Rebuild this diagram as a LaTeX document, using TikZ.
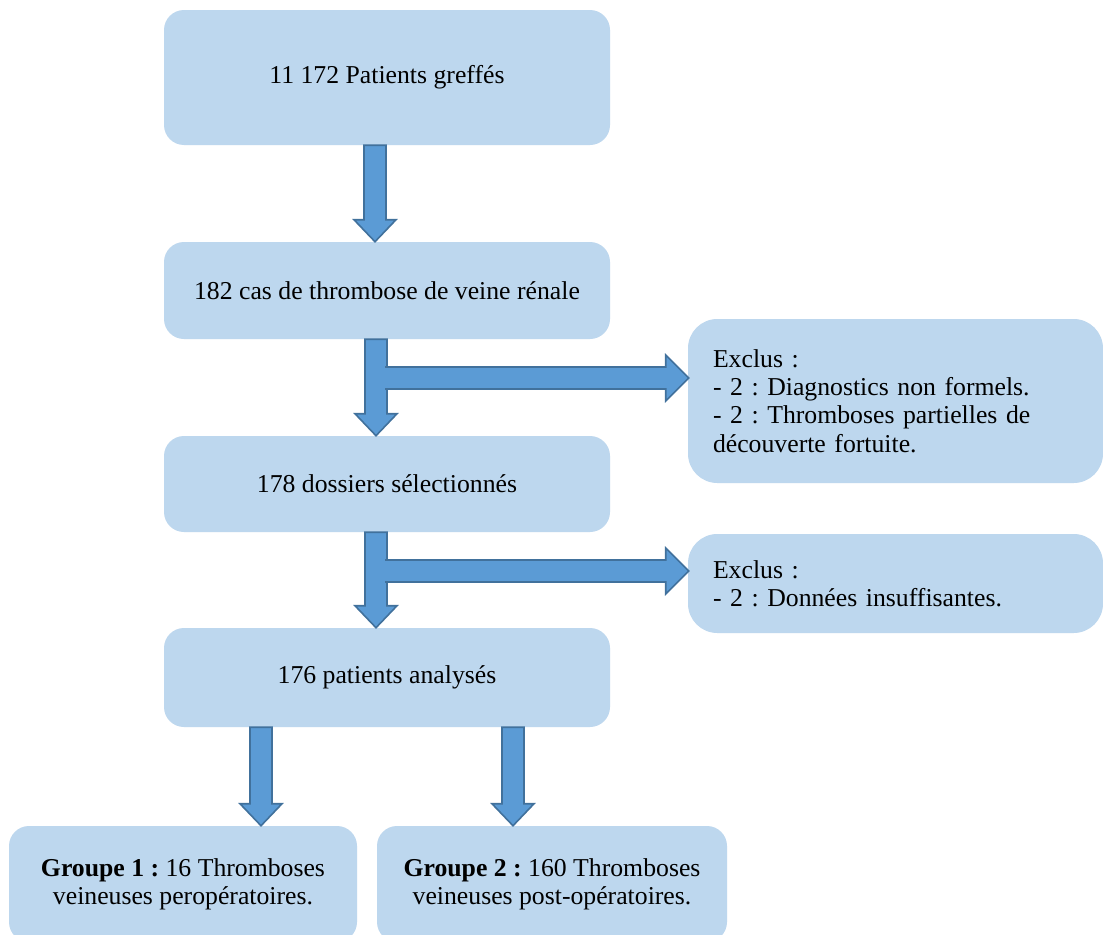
\documentclass[tikz,border=0pt]{standalone}
\usepackage{fontspec}
\setmainfont{Liberation Serif}
\usetikzlibrary{calc}
\definecolor{boxblue}{HTML}{BDD7EE}
\definecolor{arrfill}{HTML}{5B9BD5}
\definecolor{arrline}{HTML}{41719C}
\frenchspacing
\newcommand\vArr[2]{%
  \draw[arrstyle] ($(#1)+(-11,0)$) -- ($(#2)+(-11,-22)$) -- ($(#2)+(-21,-22)$) -- (#2)
    -- ($(#2)+(21,-22)$) -- ($(#2)+(11,-22)$) -- ($(#1)+(11,0)$) -- cycle;}
\newcommand\hArr[2]{%
  \fill[arrfill] ($(#1)+(0,-11)$) -- ($(#2)+(-23,-11)$) -- ($(#2)+(-23,-23)$) -- (#2)
    -- ($(#2)+(-23,23)$) -- ($(#2)+(-23,11)$) -- ($(#1)+(0,11)$) -- cycle;
  \draw[arrline, line width=1.2pt, line join=miter] ($(#1)+(0,-11)$) -- ($(#2)+(-23,-11)$) -- ($(#2)+(-23,-23)$) -- (#2)
    -- ($(#2)+(-23,23)$) -- ($(#2)+(-23,11)$) -- ($(#1)+(0,11)$);}
\begin{document}
\frenchspacing
\begin{tikzpicture}[x=0.75pt,y=-0.75pt,
  txt/.style={font=\fontsize{19.3}{21.3}\selectfont\frenchspacing},
  mainbox/.style={txt, fill=boxblue, rounded corners=15pt, minimum width=334.5pt, align=center, inner sep=0pt},
  exbox/.style={txt, fill=boxblue, rounded corners=22pt, minimum width=311.25pt, text width=273.75pt, inner xsep=18.75pt, align=left},
  grpbox/.style={txt, fill=boxblue, rounded corners=15pt, minimum height=87pt, align=center, inner sep=0pt},
  arrstyle/.style={fill=arrfill, draw=arrline, line width=1.2pt, line join=miter}]
\clip (0,0) rectangle (1103,935);
\fill[white] (0,0) rectangle (1103,935);
\node[mainbox, minimum height=101.25pt] (b1) at (387,77.5) {11 172 Patients greffés};
\node[mainbox, minimum height=72.75pt] (b2) at (387,290.5) {182 cas de thrombose de veine rénale};
\node[mainbox, minimum height=72pt] (b3) at (387,484) {178 dossiers sélectionnés};
\node[mainbox, minimum height=74.25pt] (b4) at (387,677.5) {176 patients analysés};
\node[exbox, minimum height=123pt] (e1) at (895.5,401) {Exclus :\\- 2 : Diagnostics non formels.\\- 2 : Thromboses partielles de\\découverte fortuite.};
\node[exbox, minimum height=74.25pt] (e2) at (895.5,583.5) {Exclus :\\- 2 : Données insuffisantes.};
\node[grpbox, minimum width=261pt] (g1) at (183,884) {\textbf{Groupe 1 :} 16 Thromboses\\veineuses peropératoires.};
\node[grpbox, minimum width=262.5pt] (g2) at (552,884) {\textbf{Groupe 2 :} 160 Thromboses\\veineuses post-opératoires.};
% arrow axes
\coordinate (x1) at (375,0);
\coordinate (x2) at (376,0);
\coordinate (xg1) at (261,0);
\coordinate (xg2) at (513,0);
\coordinate (a1s) at (x1 |- b1.south);
\coordinate (a1e) at (x1 |- b2.north);
\coordinate (a2s) at (x2 |- b2.south);
\coordinate (a2e) at (x2 |- b3.north);
\coordinate (a3s) at (x2 |- b3.south);
\coordinate (a3e) at (x2 |- b4.north);
\coordinate (ag1s) at (xg1 |- b4.south);
\coordinate (ag1e) at (xg1 |- g1.north);
\coordinate (ag2s) at (xg2 |- b4.south);
\coordinate (ag2e) at (xg2 |- g2.north);
\coordinate (h1s) at (385,378);
\coordinate (h1e) at ($(e1.west |- h1s)+(1,0)$);
\coordinate (h2s) at (385,571);
\coordinate (h2e) at ($(e2.west |- h2s)+(1,0)$);
\vArr{a1s}{a1e}
\vArr{a2s}{a2e}
\vArr{a3s}{a3e}
\vArr{ag1s}{ag1e}
\vArr{ag2s}{ag2e}
\hArr{h1s}{h1e}
\hArr{h2s}{h2e}
\end{tikzpicture}
\end{document}
